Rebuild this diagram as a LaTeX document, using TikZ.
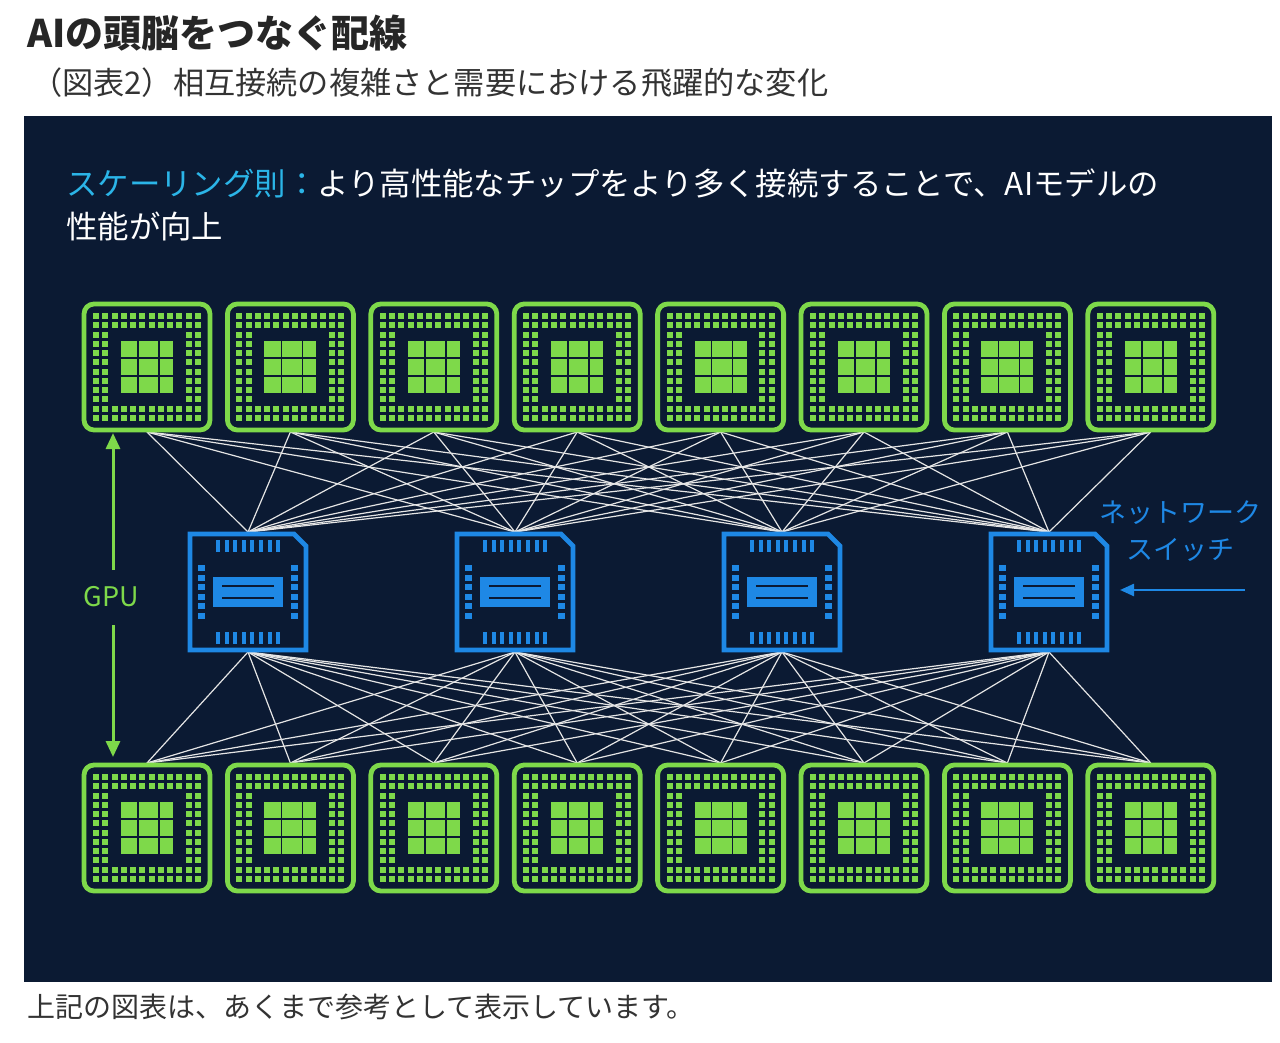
\documentclass[tikz,border=0pt]{standalone}
\usepackage{fontspec}
\setmainfont{Noto Sans CJK JP}
\usetikzlibrary{arrows.meta}
\definecolor{panel}{HTML}{0B1A33}
\definecolor{gpugreen}{HTML}{7ED94A}
\definecolor{swblue}{HTML}{1E88E5}
\definecolor{cyantext}{HTML}{2BB5E8}
\tikzset{
  link/.style={draw=white!80!gray, line width=0.6pt},
  gpuarrow/.style={draw=gpugreen, line width=1.5pt, -{Triangle[length=8pt,width=7pt]}},
  swarrow/.style={draw=swblue, line width=1.2pt, -{Triangle[length=7pt,width=6pt]}},
  pics/gpu/.style={code={
    \draw[gpugreen, line width=2.4pt, rounded corners=5pt] (-63,-63) rectangle (63,63);
    \foreach \i in {0,...,11}{\foreach \j in {0,...,11}{
      \pgfmathtruncatemacro\ring{max(abs(2*\i-11),abs(2*\j-11))}
      \ifnum\ring>8
        \fill[gpugreen] ({-51+9.27*\i-3},{-51+9.27*\j-3}) rectangle +(6,6);
      \fi}}
    \fill[gpugreen] (-26,-26) rectangle (26,26);
    \draw[panel, line width=0.8pt] (-26,-9) -- (26,-9) (-26,9) -- (26,9)
      (-9,-26) -- (-9,26) (12,-26) -- (12,26);
  }},
  pics/switch/.style={code={
    \draw[swblue, line width=2.4pt] (-58,58) -- (-58,-58) -- (46,-58) -- (58,-46) -- (58,58) -- cycle;
    \foreach \k in {0,...,7}{
      \fill[swblue] ({-30+8.6*\k-2},-52) rectangle +(4,12);
      \fill[swblue] ({-30+8.6*\k-2},40) rectangle +(4,12);}
    \foreach \k in {0,...,5}{
      \fill[swblue] (-50,{-24+9.6*\k-3}) rectangle +(7,6);
      \fill[swblue] (43,{-24+9.6*\k-3}) rectangle +(7,6);}
    \fill[swblue] (-35,-15) rectangle (35,15);
    \draw[panel, line width=0.8pt] (-26,-6) -- (26,-6) (-26,6) -- (26,6);
  }}
}
\begin{document}
\begin{tikzpicture}[x=0.5pt, y=-0.5pt]
  \useasboundingbox[fill=white] (0,0) rectangle (1280,1043);
  % titles
  \node[anchor=west, font=\fontsize{19}{22}\selectfont\bfseries, text=black!85] (title) at (20,33) {AIの頭脳をつなぐ配線};
  \node[anchor=west, font=\fontsize{15.6}{18}\selectfont, text=black!80] (subtitle) at (24,83) {（図表2）相互接続の複雑さと需要における飛躍的な変化};
  % dark panel
  \fill[panel] (24,116) rectangle (1272,982);
  \node[anchor=north west, font=\fontsize{15.7}{21.5}\selectfont, text=white, align=left, inner sep=0] (lead) at (66,168)
    {\textcolor{cyantext}{スケーリング則：}より高性能なチップをより多く接続することで、AIモデルの\\性能が向上};
  % gpus and switches
  \foreach \n in {1,...,8}{
    \coordinate (gt\n) at ({147+143.4*(\n-1)},432);
    \coordinate (gb\n) at ({147+143.4*(\n-1)},763);
  }
  \foreach \s in {1,...,4}{
    \coordinate (st\s) at ({248+267*(\s-1)},532);
    \coordinate (sb\s) at ({248+267*(\s-1)},652);
  }
  % links
  \foreach \n in {1,...,8}{\foreach \s in {1,...,4}{
    \draw[link] (gt\n) -- (st\s);
    \draw[link] (sb\s) -- (gb\n);
  }}
  \foreach \n in {1,...,8}{
    \pic at ([yshift=32.5pt]gt\n) {gpu};
    \pic at ([yshift=-32.5pt]gb\n) {gpu};
  }
  \foreach \s in {1,...,4}
    \pic at ([yshift=-30pt]st\s) {switch};
  % labels
  \node[text=gpugreen, font=\fontsize{13.5}{15}\selectfont] (gpulbl) at (111,597) {GPU};
  \coordinate (gputop) at (113,433);
  \coordinate (gpubot) at (113,757);
  \draw[gpuarrow] (113,570) -- (gputop);
  \draw[gpuarrow] (113,625) -- (gpubot);
  \node[text=swblue, font=\fontsize{13.5}{18.5}\selectfont, align=center] (swlbl) at (1180,531) {ネットワーク\\スイッチ};
  \coordinate (swtail) at (1245,590);
  \draw[swarrow] (swtail) -- (1120,590);
  % footer
  \node[anchor=west, font=\fontsize{14}{16}\selectfont, text=black!80] (footer) at (20,1007) {上記の図表は、あくまで参考として表示しています。};
\end{tikzpicture}
\end{document}
